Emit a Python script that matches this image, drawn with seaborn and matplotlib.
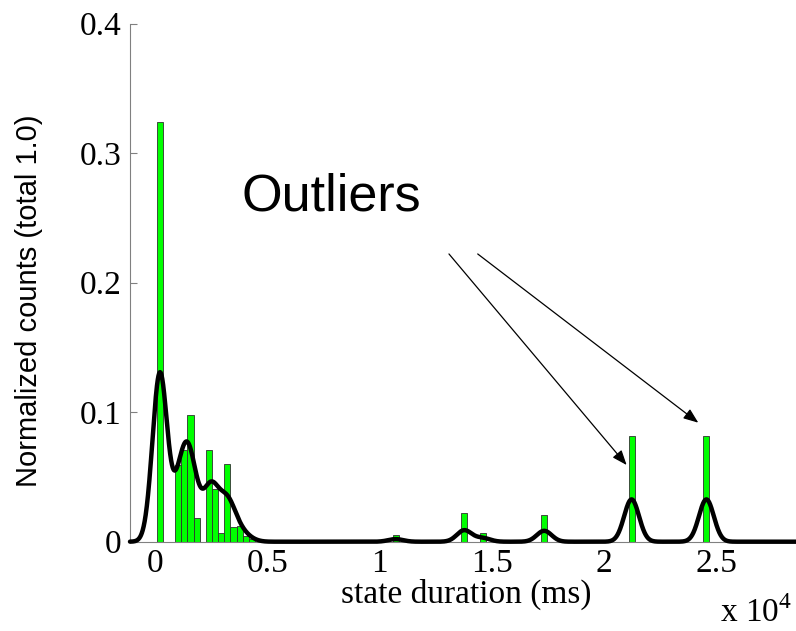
import numpy as np
import pandas as pd
import matplotlib
matplotlib.use("Agg")
import matplotlib.pyplot as plt
import seaborn as sns

# ---- data (x in units of 10^4 ms) ----
bin_centers = [0.022, 0.104, 0.131, 0.158, 0.186, 0.240, 0.268, 0.295, 0.322,
               0.350, 0.377, 0.404, 0.431,
               1.072, 1.377, 1.459, 1.733, 2.122, 2.455]
bin_heights = [0.324, 0.059, 0.071, 0.098, 0.018, 0.071, 0.041, 0.0065, 0.060,
               0.0116, 0.012, 0.0046, 0.002,
               0.005, 0.022, 0.007, 0.021, 0.0816, 0.0816]
x_ticks = [0, 0.5, 1, 1.5, 2, 2.5]
x_tick_labels = ["0", "0.5", "1", "1.5", "2", "2.5"]
y_ticks = [0, 0.1, 0.2, 0.3, 0.4]
y_tick_labels = ["0", "0.1", "0.2", "0.3", "0.4"]

sns.set_style("white")
plt.rcParams["font.family"] = ["Liberation Serif", "DejaVu Serif"]
plt.rcParams["mathtext.fontset"] = "custom"
plt.rcParams["mathtext.rm"] = "Liberation Serif"
plt.rcParams["text.color"] = "black"

xlo, xhi = -0.111, 2.854
bin_w = 0.0272
curve_scale = 0.033   # converts density to per-bin fraction
kde_sigma = 0.033

df = pd.DataFrame({"duration": bin_centers, "fraction": bin_heights})
c = df["duration"].to_numpy()
h = df["fraction"].to_numpy()
raw = np.sort(np.concatenate([c - bin_w / 2, c + bin_w / 2]))
edges = [float(raw[0])]
for e in raw[1:]:
    if e - edges[-1] < bin_w * 0.3:
        edges[-1] = float((edges[-1] + e) / 2)
    else:
        edges.append(float(e))

fig = plt.figure(figsize=(7.96, 6.31), dpi=100)
ax = fig.add_axes([130 / 796, (631 - 541.7) / 631, 666 / 796, 518 / 631])

sns.histplot(data=df, x="duration", weights="fraction", bins=edges,
             stat="count", ax=ax, color=(0, 1, 0), edgecolor="#303030",
             linewidth=0.6, alpha=1)

ax.set_xlim(xlo, xhi)
ax.set_ylim(0, 0.4)
ax.set_xticks(x_ticks, x_tick_labels)
ax.set_yticks(y_ticks, y_tick_labels)
ax.tick_params(axis="both", direction="in", labelsize=24, colors="#808080",
               labelcolor="black", length=5, width=0.8)
ax.tick_params(axis="x", pad=5)
ax.tick_params(axis="y", pad=6)
ax.set_xlabel("")
ax.set_ylabel("")
for s in ["top", "right"]:
    ax.spines[s].set_visible(False)
ax.spines["left"].set_color("#808080")
ax.spines["bottom"].set_color("#808080")

# smoothed density curve on a twin axis (density scaled to per-bin fraction)
ax2 = ax.twinx()
wstd = np.sqrt(np.cov(c, aweights=h))
sns.kdeplot(data=df, x="duration", weights="fraction",
            bw_method=kde_sigma / wstd, cut=40, clip=(xlo, xhi),
            gridsize=4000, ax=ax2, color="black", lw=3.2)
ax2.set_xlim(xlo, xhi)
ax2.set_ylim(0, 0.4 / curve_scale)
ax2.axis("off")
for ln in ax2.lines:
    ln.set_clip_on(False)

# annotation
ax.text(0.386, 0.256, "Outliers", fontsize=37.5, family=["Liberation Sans"],
        va="baseline", ha="left", color="black")
arrow_tails = [(1.309, 0.2222), (1.437, 0.2222)]
arrow_heads = [(2.100, 0.0592), (2.419, 0.0919)]
for (tx, ty), (hx, hy) in zip(arrow_tails, arrow_heads):
    ax.annotate("", xy=(hx, hy), xycoords="data",
                xytext=(tx, ty), textcoords="data", zorder=5,
                arrowprops=dict(arrowstyle="-|>,head_length=0.9,head_width=0.35",
                                color="black", lw=0.9, shrinkA=0, shrinkB=0))

fig.text(29 / 796, 1 - 301 / 631, "Normalized counts (total 1.0)", rotation=90,
         ha="center", va="center", fontsize=21, family=["Liberation Sans"],
         color="black")
fig.text(466 / 796, 1 - 603 / 631, "state duration (ms)", ha="center",
         va="baseline", fontsize=24, color="black")
fig.text(720 / 796, 1 - 622 / 631, r"x 10$^{4}$", ha="left", va="baseline",
         fontsize=24, color="black")

fig.savefig("out.png", dpi=100)
